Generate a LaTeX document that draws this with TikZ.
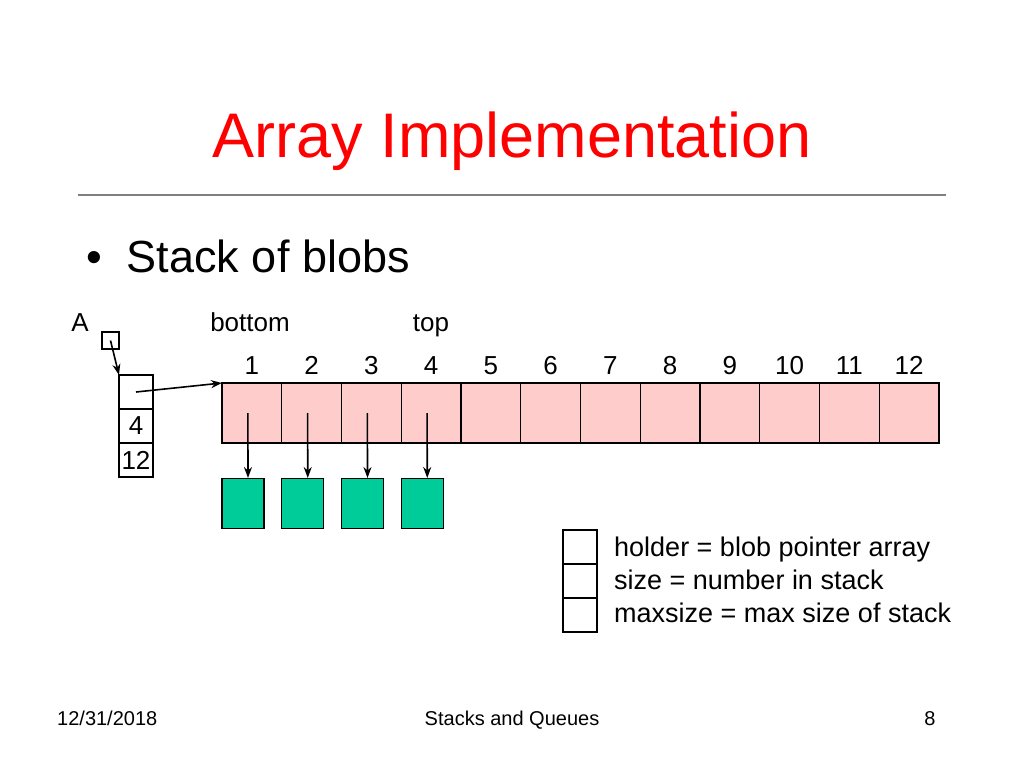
\documentclass[tikz,border=0pt]{standalone}
\usepackage{fontspec}
\setmainfont{Liberation Sans}
\usetikzlibrary{positioning,arrows.meta}
\definecolor{cellpink}{RGB}{255,204,204}
\definecolor{blobgreen}{RGB}{0,204,153}
\tikzset{
  cell/.style={draw, line width=1.3pt, fill=cellpink, minimum width=59.75pt, minimum height=60pt, inner sep=0pt, outer sep=0pt},
  blob/.style={draw, line width=1.3pt, fill=blobgreen, minimum width=42pt, minimum height=50pt, inner sep=0pt},
  field/.style={draw, line width=1.3pt, fill=white, minimum width=34pt, minimum height=34pt, inner sep=0pt, outer sep=0pt, font=\fontsize{26}{28}\selectfont},
  lbl/.style={inner sep=0pt, anchor=base, font=\fontsize{26}{28}\selectfont},
  foot/.style={inner sep=0pt, anchor=base, font=\fontsize{20}{22}\selectfont},
  ptr/.style={-{Stealth[length=11pt, width=8pt]}, line width=1.6pt}
}
\begin{document}
\begin{tikzpicture}[x=1pt, y=-1pt]
    \useasboundingbox (0,0) rectangle (1024,768);

    % Title and rule
    \node[text=red, anchor=base, inner sep=0pt, font=\fontsize{63}{68}\selectfont] (title) at (512,157) {Array Implementation};
    \draw[gray, line width=1.3pt] (78,195) -- (946,195);
    \node[anchor=base west, inner sep=0pt, font=\fontsize{45}{49}\selectfont] (bullet) at (86,272) {\textbullet\ \ Stack of blobs};

    % Labels
    \node[lbl] (lA) at (80,331) {A};
    \node[lbl] (lbottom) at (250,331) {bottom};
    \node[lbl] (ltop) at (431,331) {top};

    % Pointer A and record
    \node[draw, line width=1.3pt, minimum size=17pt, inner sep=0pt] (a) at (110.5,340.5) {};
    \node[field] (holder) at (136,392) {};
    \node[field, below=0pt of holder] (size) {4};
    \node[field, below=0pt of size] (maxsize) {12};
    \draw[ptr] (a.center) -- (holder.north west);

    % Array cells
    \foreach \i in {1,...,12} {
        \node[cell] (c\i) at ({222+59.75*(\i-0.5)},413) {};
        \node[lbl] (n\i) at ({222+59.75*(\i-0.5)},374) {\i};
    }
    \draw[ptr] (holder.center) -- (c1.north west);

    % Blobs
    \foreach \i in {1,...,4} {
        \node[blob, anchor=north] (b\i) at ({243+59.75*(\i-1)},478) {};
        \draw[ptr] ([xshift=-4pt]c\i.center) -- ([xshift=5pt]b\i.north);
    }

    % Legend
    \node[field] (k1) at (580,547) {};
    \node[field, below=0pt of k1] (k2) {};
    \node[field, below=0pt of k2] (k3) {};
    \node[lbl, anchor=base west, font=\fontsize{27}{29}\selectfont] (t1) at (614,556) {holder = blob pointer array};
    \node[lbl, anchor=base west, font=\fontsize{27}{29}\selectfont] (t2) at (614,589) {size = number in stack};
    \node[lbl, anchor=base west, font=\fontsize{27}{29}\selectfont] (t3) at (614,622) {maxsize = max size of stack};

    % Footer
    \node[foot, anchor=base west] (date) at (57,725) {12/31/2018};
    \node[foot] (course) at (512,725) {Stacks and Queues};
    \node[foot] (page) at (930,725) {8};
\end{tikzpicture}
\end{document}
